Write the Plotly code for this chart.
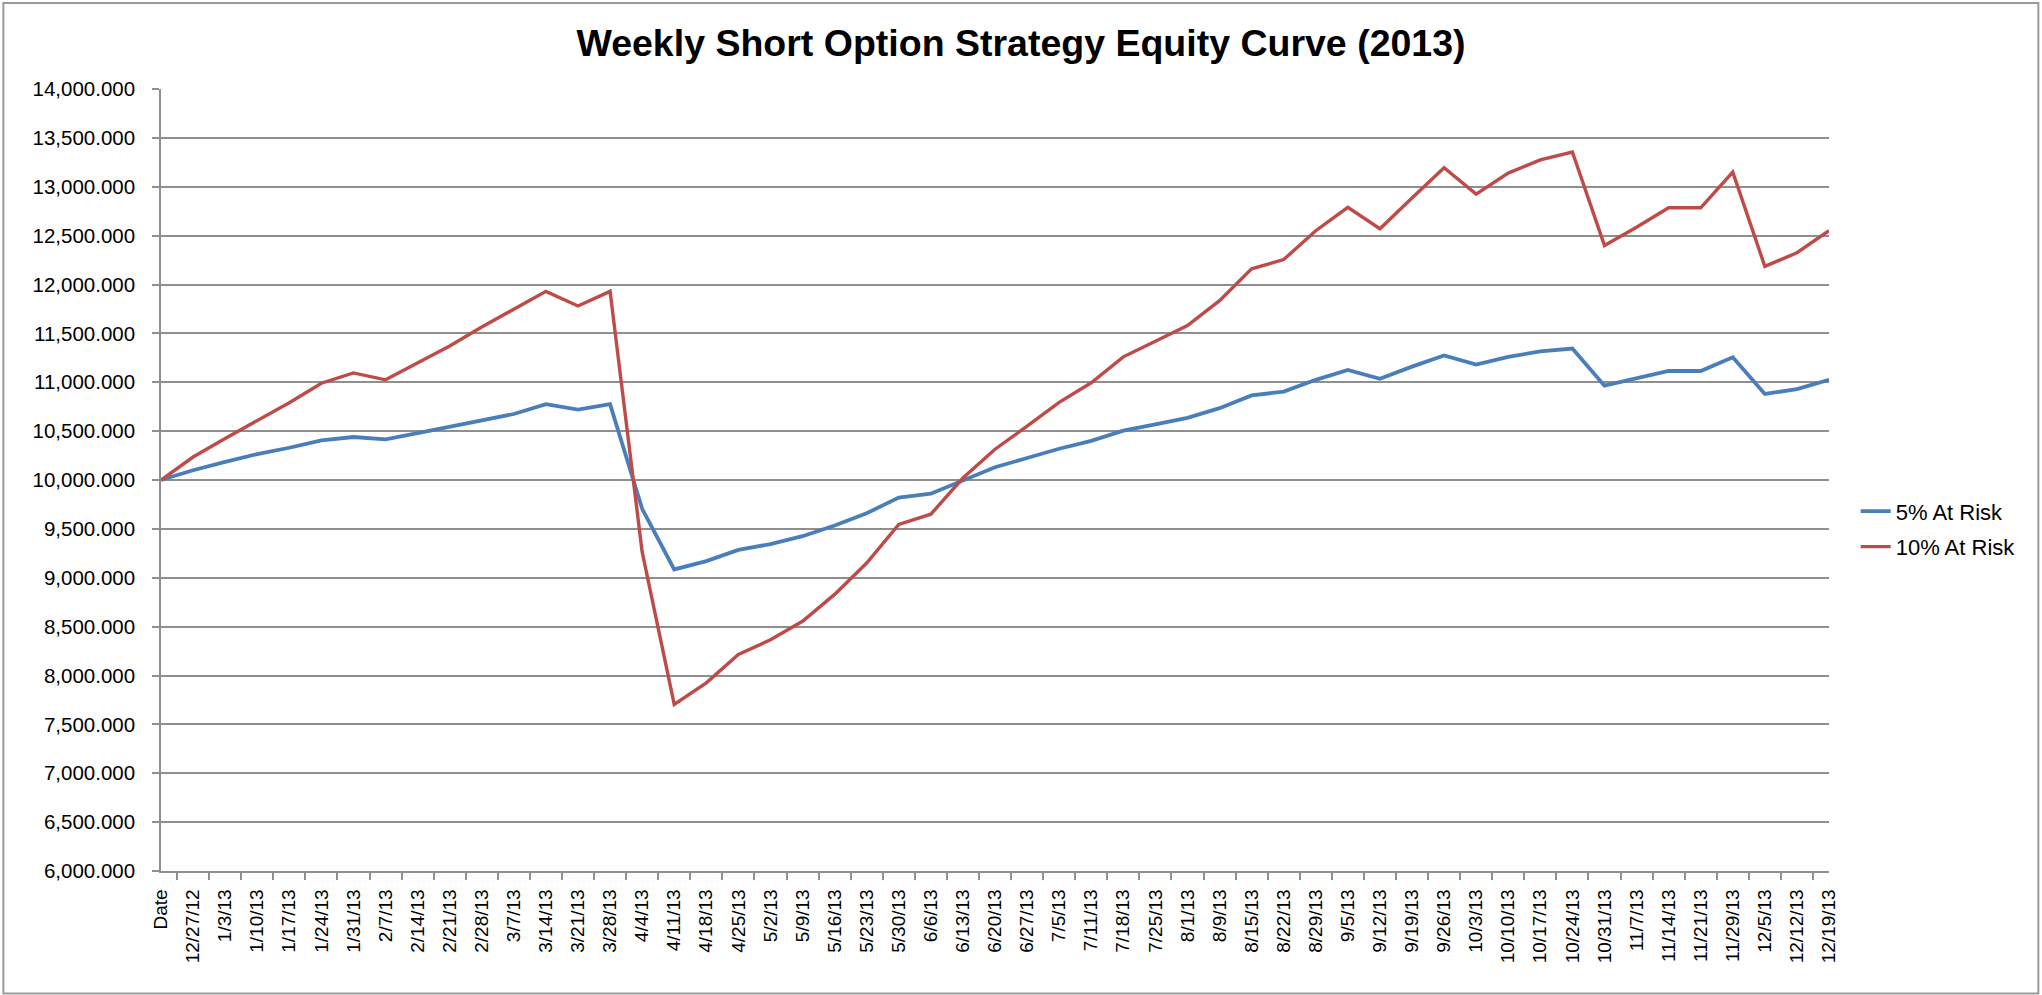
import plotly.graph_objects as go

# weekly closes (first row is the header row the sheet plotted as a category)
dates = ["Date", "12/27/12", "1/3/13", "1/10/13", "1/17/13", "1/24/13", "1/31/13",
         "2/7/13", "2/14/13", "2/21/13", "2/28/13", "3/7/13", "3/14/13", "3/21/13",
         "3/28/13", "4/4/13", "4/11/13", "4/18/13", "4/25/13", "5/2/13", "5/9/13",
         "5/16/13", "5/23/13", "5/30/13", "6/6/13", "6/13/13", "6/20/13", "6/27/13",
         "7/5/13", "7/11/13", "7/18/13", "7/25/13", "8/1/13", "8/9/13", "8/15/13",
         "8/22/13", "8/29/13", "9/5/13", "9/12/13", "9/19/13", "9/26/13", "10/3/13",
         "10/10/13", "10/17/13", "10/24/13", "10/31/13", "11/7/13", "11/14/13",
         "11/21/13", "11/29/13", "12/5/13", "12/12/13", "12/19/13"]

risk_5 = [10000, 10100, 10185, 10265, 10330, 10405, 10440, 10415, 10480, 10545,
          10605, 10675, 10775, 10720, 10775, 9705, 9085, 9170, 9285, 9345,
          9425, 9535, 9660, 9820, 9860, 10000, 10130, 10225, 10320, 10400,
          10505, 10570, 10635, 10735, 10865, 10905, 11025, 11125, 11035, 11160,
          11275, 11180, 11260, 11315, 11345, 10965, 11040, 11115, 11115, 11255,
          10880, 10930, 11025]

risk_10 = [10000, 10235, 10425, 10610, 10790, 10990, 11095, 11025, 11195, 11370,
           11565, 11745, 11930, 11780, 11930, 9265, 7705, 7925, 8215, 8365,
           8555, 8830, 9150, 9545, 9650, 10020, 10315, 10550, 10795, 10995,
           11260, 11420, 11580, 11835, 12160, 12255, 12550, 12790, 12570, 12885,
           13195, 12925, 13140, 13275, 13355, 12400, 12585, 12785, 12785, 13150,
           12185, 12325, 12550]

GRID = "#8f8f8f"
FONT = "Liberation Sans"

fig = go.Figure()
fig.add_trace(go.Scatter(x=dates, y=risk_5, mode="lines", name="5% At Risk",
                         legendgroup="a",
                         line=dict(color="#4a7ebb", width=3.8)))
fig.add_trace(go.Scatter(x=dates, y=risk_10, mode="lines", name="10% At Risk",
                         legendgroup="b",
                         line=dict(color="#be4b48", width=3.4)))

fig.update_layout(
    width=2042, height=995,
    margin=dict(l=160.7, r=212.5, t=89, b=123.5, autoexpand=False),
    paper_bgcolor="white", plot_bgcolor="white",
    font=dict(family=FONT, size=20, color="black"),
    title=dict(text="<b>Weekly Short Option Strategy Equity Curve (2013)</b>",
               font=dict(family=FONT, size=37.5, color="black"),
               x=0.5, xref="container", xanchor="center",
               y=1 - 43 / 995, yref="container", yanchor="middle"),
    legend=dict(x=1.016, xanchor="left", y=0.437, yanchor="middle",
                font=dict(family=FONT, size=22), bgcolor="rgba(0,0,0,0)",
                tracegroupgap=4),
    showlegend=True,
)

fig.update_xaxes(type="category", tickangle=-90, tickson="boundaries",
                 ticks="outside", ticklen=7, tickcolor=GRID, tickwidth=1.5,
                 ticklabelstandoff=9,
                 showline=True, linecolor=GRID, linewidth=1.5,
                 showgrid=False, zeroline=False,
                 tickfont=dict(family=FONT, size=19))
fig.update_yaxes(range=[6000, 14000], dtick=500, tickformat=",.3f",
                 ticks="outside", ticklen=7, tickcolor=GRID, tickwidth=1.5,
                 ticklabelstandoff=13,
                 showline=True, linecolor=GRID, linewidth=1.5,
                 showgrid=True, gridcolor=GRID, gridwidth=1.5, zeroline=False,
                 tickfont=dict(family=FONT, size=20.5))

# outer chart frame
fig.add_shape(type="rect", xref="paper", yref="paper",
              x0=-0.0945, x1=1.1255, y0=-0.1565, y1=1.1099,
              line=dict(color="#9a9a9a", width=2), layer="below")

# drop the default page margin so the figure sits at the window corner
fig.write_html("out.html", config={"displayModeBar": False},
               post_script="document.body.style.margin='0';"
                           "document.body.style.overflow='hidden';")
